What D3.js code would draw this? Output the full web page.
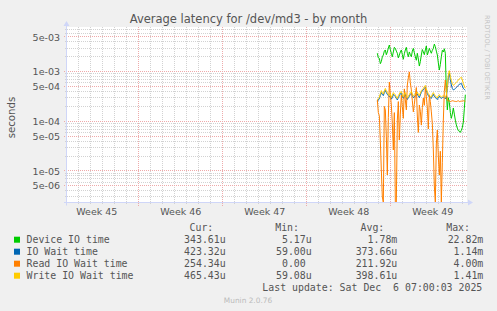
<!DOCTYPE html>
<html>
<head>
<meta charset="utf-8">
<script src="https://cdn.jsdelivr.net/npm/d3@7"></script>
<style>
  html, body { margin: 0; padding: 0; background: #f0f0f0; }
  svg { display: block; }
  text { font-family: "DejaVu Sans", sans-serif; fill: #555; }
  .mono { font-family: "DejaVu Sans Mono", monospace; font-size: 9.9px; white-space: pre; }
</style>
</head>
<body>
<svg id="chart" width="497" height="311"></svg>
<script>
// values (seconds), one point every 2 hours
const firstPoint = Date.UTC(2025, 10, 28, 22, 0);
const deviceIO = [
  2.35e-3, 1.9e-3, 1.86e-3, 1.45e-3, 1.6e-3, 2.0e-3, 2.17e-3, 2.6e-3, 2.74e-3, 2.2e-3,
  2.5e-3, 3.0e-3, 3.45e-3, 2.8e-3, 2.35e-3, 2.0e-3, 2.5e-3, 3.1e-3, 2.95e-3, 2.6e-3,
  2.35e-3, 1.9e-3, 2.17e-3, 2.5e-3, 2.74e-3, 2.2e-3, 1.78e-3, 2.3e-3, 2.74e-3, 3.1e-3,
  2.35e-3, 2.0e-3, 2.5e-3, 2.2e-3, 2.0e-3, 2.6e-3, 2.95e-3, 2.4e-3, 2.0e-3, 1.7e-3,
  2.35e-3, 1.8e-3, 1.3e-3, 1.6e-3, 2.17e-3, 2.8e-3, 2.5e-3, 2.2e-3, 2.74e-3, 3.3e-3,
  2.17e-3, 2.5e-3, 2.95e-3, 2.6e-3, 2.35e-3, 2.7e-3, 2.95e-3, 3.6e-3, 3.2e-3, 2.6e-3,
  2.17e-3, 1.5e-3, 1.08e-3, 1.4e-3, 2.0e-3, 2.7e-3, 2.5e-3, 2.9e-3, 2.35e-3, 4.0e-4,
  1.7e-4, 3.0e-4, 2.4e-4, 1.5e-4, 1.15e-4, 1.4e-4, 1.86e-4, 1.4e-4, 1.06e-4, 8.5e-5,
  7.3e-5, 6.5e-5, 6.4e-5, 6.0e-5, 6.6e-5, 7.5e-5, 9.7e-5, 1.8e-4, 3.44e-4];
const ioWait = [
  2.5e-4, 2.7e-4, 2.85e-4, 3.3e-4, 3.8e-4, 3.5e-4, 3.3e-4, 3.8e-4, 4.2e-4, 3.8e-4,
  3.5e-4, 3.3e-4, 3.1e-4, 3.3e-4, 2.8e-4, 3.0e-4, 3.5e-4, 3.3e-4, 3.15e-4, 2.9e-4,
  2.7e-4, 3.0e-4, 3.3e-4, 3.6e-4, 3.7e-4, 3.2e-4, 2.9e-4, 3.2e-4, 3.5e-4, 3.0e-4,
  2.75e-4, 3.0e-4, 3.2e-4, 3.5e-4, 3.7e-4, 3.3e-4, 3.0e-4, 3.1e-4, 3.3e-4, 3.4e-4,
  3.6e-4, 3.2e-4, 3.0e-4, 3.4e-4, 3.85e-4, 4.1e-4, 4.3e-4, 4.6e-4, 4.9e-4, 4.2e-4,
  3.65e-4, 3.3e-4, 3.1e-4, 3.0e-4, 2.9e-4, 3.2e-4, 3.5e-4, 3.2e-4, 3.0e-4, 2.9e-4,
  2.75e-4, 3.0e-4, 3.2e-4, 3.0e-4, 2.9e-4, 3.0e-4, 3.1e-4, 3.0e-4, 2.85e-4, 3.1e-4,
  4.6e-4, 7.5e-4, 9.4e-4, 7.0e-4, 5.4e-4, 4.6e-4, 4.3e-4, 4.4e-4, 4.6e-4, 4.8e-4,
  5.0e-4, 5.3e-4, 5.6e-4, 5.7e-4, 5.8e-4, 5.2e-4, 4.6e-4, 4.4e-4, 4.23e-4];
const readWait = [
  2.7e-4, 1.5e-4, 1.3e-4, 4.0e-5, 1.05e-5, 3.0e-6, 0, 2.0e-4, 1.7e-4, 5.0e-5,
  8.3e-6, 1.2e-4, 6.2e-4, 3.5e-4, 2.13e-4, 9.0e-5, 2.65e-5, 1.5e-4, 0, 0,
  1.06e-4, 2.5e-4, 4.2e-5, 1.4e-4, 3.4e-4, 2.0e-4, 1.15e-4, 4.5e-4, 2.7e-4, 1.7e-4,
  5.4e-4, 7.5e-4, 9.9e-4, 6.0e-4, 4.3e-4, 2.6e-4, 1.55e-4, 2.2e-4, 3.4e-4, 4.8e-4,
  1.28e-4, 6.0e-5, 2.13e-4, 1.6e-4, 8.4e-5, 1.9e-4, 2.95e-4, 2.1e-4, 4.7e-4, 3.2e-4,
  1.86e-4, 7.0e-5, 3.4e-4, 2.5e-4, 1.55e-4, 9.0e-5, 2.65e-5, 5.0e-6, 0, 3.5e-5,
  6.7e-5, 2.0e-5, 8.3e-6, 2.5e-5, 0, 1.5e-5, 1.06e-4, 4.0e-4, 6.8e-4, 4.0e-4,
  2.7e-4, 2.55e-4, 2.6e-4, 2.5e-4, 2.55e-4, 2.6e-4, 2.58e-4, 2.54e-4, 2.52e-4, 2.5e-4,
  2.56e-4, 2.6e-4, 2.5e-4, 2.53e-4, 2.55e-4, 2.57e-4, 2.6e-4, 2.56e-4, 2.54e-4];
const writeWait = [
  2.7e-4, 2.9e-4, 3.05e-4, 3.6e-4, 4.15e-4, 3.8e-4, 3.55e-4, 4.1e-4, 4.6e-4, 4.1e-4,
  3.8e-4, 3.5e-4, 3.35e-4, 3.6e-4, 3.05e-4, 3.3e-4, 3.8e-4, 3.6e-4, 3.4e-4, 3.1e-4,
  2.9e-4, 3.3e-4, 3.55e-4, 3.9e-4, 4.0e-4, 3.5e-4, 3.1e-4, 3.5e-4, 3.8e-4, 3.3e-4,
  2.95e-4, 3.2e-4, 3.45e-4, 3.8e-4, 4.0e-4, 3.6e-4, 3.25e-4, 3.4e-4, 3.55e-4, 3.7e-4,
  3.9e-4, 3.5e-4, 3.25e-4, 3.7e-4, 4.15e-4, 4.4e-4, 4.6e-4, 5.0e-4, 5.3e-4, 4.5e-4,
  3.95e-4, 3.6e-4, 3.35e-4, 3.2e-4, 3.1e-4, 3.5e-4, 3.8e-4, 3.5e-4, 3.25e-4, 3.1e-4,
  2.95e-4, 3.3e-4, 3.45e-4, 3.2e-4, 3.1e-4, 3.2e-4, 3.35e-4, 3.2e-4, 3.05e-4, 3.4e-4,
  5.0e-4, 8.5e-4, 1.05e-3, 8.0e-4, 6.6e-4, 5.8e-4, 5.3e-4, 5.5e-4, 5.8e-4, 6.1e-4,
  6.4e-4, 6.8e-4, 7.2e-4, 7.5e-4, 7.7e-4, 6.8e-4, 5.8e-4, 5.1e-4, 4.65e-4];

const yTickVals = [5e-3, 1e-3, 5e-4, 1e-4, 5e-5, 1e-5, 5e-6];
const yTickLabels = ['5e-03', '1e-03', '5e-04', '1e-04', '5e-05', '1e-05', '5e-06'];
const weekStarts = [Date.UTC(2025, 10, 2), Date.UTC(2025, 10, 9), Date.UTC(2025, 10, 16), Date.UTC(2025, 10, 23), Date.UTC(2025, 10, 30)];
const weekLabels = ['Week 45', 'Week 46', 'Week 47', 'Week 48', 'Week 49'];

const legendNames = ['Device IO time', 'IO Wait time', 'Read IO Wait time', 'Write IO Wait time'];
const curVals = ['343.61u', '423.32u', '254.34u', '465.43u'];
const minVals = ['5.17u', '59.00u', '0.00 ', '59.08u'];
const avgVals = ['1.78m', '373.66u', '211.92u', '398.61u'];
const maxVals = ['22.82m', '1.14m', '4.00m', '1.41m'];
const lastUpdate = 'Last update: Sat Dec  6 07:00:03 2025';

const colors = ['#00cc00', '#0066b3', '#ff8000', '#ffcc00'];
const series = [deviceIO, ioWait, readWait, writeWait];

const svg = d3.select('#chart');
const P = { l: 67, r: 467, t: 27, b: 202.5 };

const tEnd = Date.UTC(2025, 11, 6, 9, 20);
const tStart = tEnd - 800 * 3600e3;
const x = d3.scaleUtc().domain([tStart, tEnd]).range([P.l, P.r]);
const y = d3.scaleLog().domain([2.32e-6, 7.95e-3]).range([P.b, P.t]).clamp(true);
const times = readWait.map((_, i) => new Date(firstPoint + i * 2 * 3600e3));

// canvas
svg.append('rect').attr('x', P.l).attr('y', P.t).attr('width', P.r - P.l).attr('height', P.b - P.t).attr('fill', '#fff');

const px = v => Math.floor(v) + 0.5;
const grid = svg.append('g').attr('fill', 'none').attr('stroke-dasharray', '1,1').attr('shape-rendering', 'crispEdges');

// minor horizontal grid
const minorY = [];
[-6, -5, -4, -3].forEach(e => [2, 3, 4, 6, 7, 8, 9].forEach(m => {
  const v = m * Math.pow(10, e);
  if (v > y.domain()[0] && v < y.domain()[1]) minorY.push(v);
}));
grid.selectAll('.hmin').data(minorY).join('line')
  .attr('x1', P.l - 2).attr('x2', P.r)
  .attr('y1', d => px(y(d))).attr('y2', d => px(y(d)))
  .attr('stroke', '#d2d2d2');

// minor vertical grid (days)
const days = d3.utcDay.range(new Date(tStart), new Date(tEnd)).filter(d => d.getUTCDay() !== 0);
grid.selectAll('.vmin').data(days).join('line')
  .attr('x1', d => px(x(d))).attr('x2', d => px(x(d)))
  .attr('y1', P.t).attr('y2', P.b + 2)
  .attr('stroke', '#d2d2d2');

// major grid
grid.selectAll('.hmaj').data(yTickVals).join('line')
  .attr('x1', P.l - 3).attr('x2', P.r)
  .attr('y1', d => px(y(d))).attr('y2', d => px(y(d)))
  .attr('stroke', '#eeaaaa');
grid.selectAll('.vmaj').data(weekStarts.filter(d => d > tStart)).join('line')
  .attr('x1', d => px(x(d))).attr('x2', d => px(x(d)))
  .attr('y1', P.t).attr('y2', P.b + 3)
  .attr('stroke', '#eeaaaa');

// lines
const line = d3.line()
  .x((d, i) => x(times[i]))
  .y(d => y(Math.max(d, 1e-9)));
svg.append('g').selectAll('path').data(series).join('path')
  .attr('d', d => line(d))
  .attr('fill', 'none')
  .attr('stroke', (d, i) => colors[i])
  .attr('stroke-width', 1)
  .attr('stroke-linejoin', 'round');

// axes
const axisCol = '#cfd6f8';
svg.append('line').attr('x1', P.l - 3).attr('x2', P.r + 2).attr('y1', 202.5).attr('y2', 202.5).attr('stroke', axisCol);
svg.append('line').attr('x1', 66.5).attr('x2', 66.5).attr('y1', P.b + 3).attr('y2', 24).attr('stroke', axisCol);
svg.append('path').attr('d', 'M468,199.5 L473,202.5 L468,205.5 Z').attr('fill', axisCol);
svg.append('path').attr('d', 'M63.5,26 L66.5,21 L69.5,26 Z').attr('fill', axisCol);

const yAxis = svg.append('g').attr('transform', `translate(${P.l},0)`)
  .call(d3.axisLeft(y).tickValues(yTickVals).tickFormat((d, i) => yTickLabels[i]).tickSize(0).tickPadding(7));
yAxis.select('.domain').remove();
yAxis.selectAll('text').attr('font-size', '9.5px').attr('font-family', '"DejaVu Sans", sans-serif').attr('fill', '#555');

const xAxis = svg.append('g').attr('transform', `translate(0,${P.b})`)
  .call(d3.axisBottom(x).tickValues(weekStarts.map(d => new Date(d + 3.5 * 86400e3)))
    .tickFormat((d, i) => weekLabels[i]).tickSize(0).tickPadding(6));
xAxis.select('.domain').remove();
xAxis.selectAll('text').attr('font-size', '9.5px').attr('font-family', '"DejaVu Sans", sans-serif').attr('fill', '#555');

// titles
svg.append('text').attr('x', 248.5).attr('y', 23).attr('text-anchor', 'middle')
  .attr('font-size', '11.5px').text('Average latency for /dev/md3 - by month');
svg.append('text').attr('transform', 'translate(14.5,117.5) rotate(-90)').attr('text-anchor', 'middle')
  .attr('font-size', '10.2px').text('seconds');
svg.append('text').attr('transform', 'translate(485,15) rotate(90)').attr('font-size', '6.6px')
  .style('fill', '#c4c4c4').text('RRDTOOL / TOBI OETIKER');
svg.append('text').attr('x', 248).attr('y', 302.5).attr('text-anchor', 'middle')
  .attr('font-size', '7.4px').style('fill', '#bbb').text('Munin 2.0.76');

// legend
const lg = svg.append('g');
const headers = [['Cur:', 213.3], ['Min:', 299], ['Avg:', 384.3], ['Max:', 470]];
headers.forEach(h => lg.append('text').attr('class', 'mono').attr('x', h[1]).attr('y', 231.2)
  .attr('text-anchor', 'end').text(h[0]));
legendNames.forEach((name, i) => {
  const by = 243.2 + i * 12;
  lg.append('rect').attr('x', 14).attr('y', by - 6.5).attr('width', 6).attr('height', 6).attr('fill', colors[i]);
  lg.append('text').attr('class', 'mono').attr('x', 26.5).attr('y', by).text(name);
  [[curVals, 225.7], [minVals, 311.7], [avgVals, 397.3], [maxVals, 483.3]].forEach(c =>
    lg.append('text').attr('class', 'mono').attr('x', c[1]).attr('y', by).attr('text-anchor', 'end').text(c[0][i]));
});
lg.append('text').attr('class', 'mono').attr('x', 482.3).attr('y', 291.2).attr('text-anchor', 'end').text(lastUpdate);
</script>
</body>
</html>
